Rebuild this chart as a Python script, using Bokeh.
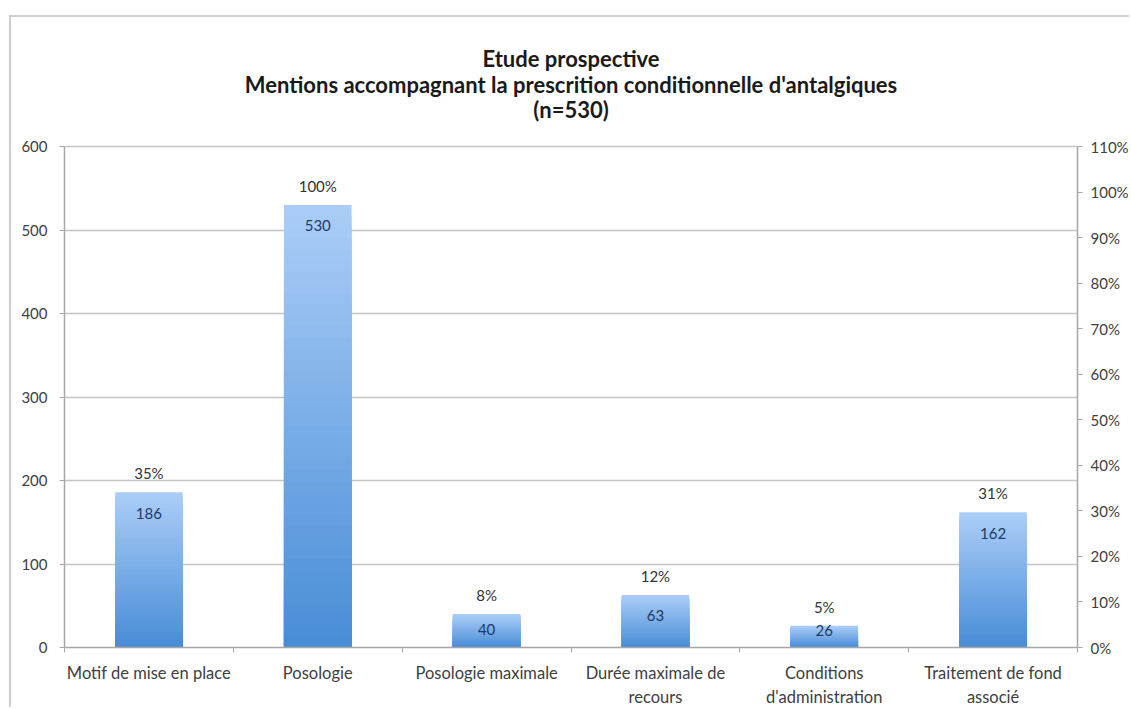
from bokeh.plotting import figure
from bokeh.models import Range1d, LinearAxis, FixedTicker, NumeralTickFormatter
from bokeh.embed import file_html
from bokeh.resources import INLINE

categories = ["Motif de mise en place", "Posologie", "Posologie maximale",
              "Durée maximale de\nrecours", "Conditions\nd'administration",
              "Traitement de fond\nassocié"]
counts = [186, 530, 40, 63, 26, 162]
percent_labels = ["35%", "100%", "8%", "12%", "5%", "31%"]
left_ticks = [0, 100, 200, 300, 400, 500, 600]
right_ticks = [0.0, 0.1, 0.2, 0.3, 0.4, 0.5, 0.6, 0.7, 0.8, 0.9, 1.0, 1.1]
title_lines = ["Etude prospective",
               "Mentions accompagnant la prescrition conditionnelle d'antalgiques",
               "(n=530)"]

FONT = "Lato"
AXIS_COLOR = "#a6a6a6"
GRID_COLOR = "#c4c4c4"
LABEL_COLOR = "#404040"

W, H = 1120, 692
MB_L = 53
YMAX = 600          # top of the value axis
PMAX = 1.1          # top of the percentage axis
AXIS_PX = 501       # pixel height of the 0..YMAX part of the frame
FRAME_PX = 630      # full frame height (title area included)
YTOP = YMAX * FRAME_PX / AXIS_PX

p = figure(width=W, height=H, x_range=Range1d(0, len(categories)),
           y_range=Range1d(0, YTOP), output_backend="svg", toolbar_location=None,
           min_border_left=MB_L, min_border_right=0, min_border_top=0,
           min_border_bottom=0)
p.styles = {"border-top": "2px solid #cfcfcf", "border-left": "2px solid #cfcfcf",
            "margin-top": "15px", "margin-left": "9px"}
p.outline_line_color = None
p.background_fill_color = "white"
p.border_fill_color = "white"

xs = [i + 0.5 for i in range(len(categories))]

# title: three centred lines above the value area
p.text(x=[len(categories) / 2] * 3, y=[YMAX] * 3, text=title_lines,
       y_offset=[-88, -62, -37], text_align="center", text_baseline="middle",
       text_font={"value": FONT}, text_font_size="22px", text_font_style="bold",
       text_color="#1a1a1a")

# gradient bars: nested bars, lighter at top, darker at bottom
light = (0xAA, 0xCD, 0xF7)
dark = (0x49, 0x8D, 0xD7)
N = 40
for k in range(N):
    frac = 1 - k / N
    t = k / (N - 1)
    col = "#%02x%02x%02x" % tuple(int(round(light[j] + (dark[j] - light[j]) * t)) for j in range(3))
    p.vbar(x=xs, top=[c * frac for c in counts], width=0.4, fill_color=col, line_color=None)

# value labels inside the bar end (moved up for short bars)
bar_px = [c / YMAX * AXIS_PX for c in counts]
inside_off = [min(21, max(5, h - 18)) for h in bar_px]
p.text(x=xs, y=counts, text=[str(c) for c in counts], y_offset=inside_off,
       text_align="center", text_baseline="middle", text_font_size="15px",
       text_font={"value": FONT}, text_color="#1f3a66")
p.text(x=xs, y=counts, text=percent_labels, y_offset=-19,
       text_align="center", text_baseline="middle", text_font_size="15px",
       text_font={"value": FONT}, text_color="#333333")

# grid
p.xgrid.grid_line_color = None
p.ygrid.ticker = FixedTicker(ticks=left_ticks)
p.ygrid.grid_line_color = GRID_COLOR
p.ygrid.grid_line_width = 1.5

# left axis
ya = p.yaxis[0]
ya.ticker = FixedTicker(ticks=left_ticks)
ya.bounds = (0, YMAX)
ya.axis_line_color = AXIS_COLOR
ya.axis_line_width = 1.5
ya.major_tick_line_color = AXIS_COLOR
ya.major_tick_out = 5
ya.major_tick_in = 0
ya.minor_tick_line_color = None
ya.major_label_text_font = FONT
ya.major_label_text_font_size = "15px"
ya.major_label_text_color = LABEL_COLOR
ya.major_label_standoff = 12

# right axis
p.extra_y_ranges = {"pct": Range1d(0, PMAX * YTOP / YMAX)}
ra = LinearAxis(y_range_name="pct", ticker=FixedTicker(ticks=right_ticks),
                formatter=NumeralTickFormatter(format="0%"), bounds=(0, PMAX))
ra.axis_line_color = AXIS_COLOR
ra.axis_line_width = 1.5
ra.major_tick_line_color = AXIS_COLOR
ra.major_tick_out = 5
ra.major_tick_in = 0
ra.minor_tick_line_color = None
ra.major_label_text_font = FONT
ra.major_label_text_font_size = "15px"
ra.major_label_text_color = LABEL_COLOR
ra.major_label_standoff = 8
p.add_layout(ra, "right")

# bottom axis
xa = p.xaxis[0]
xa.ticker = FixedTicker(ticks=xs, minor_ticks=list(range(len(categories) + 1)))
xa.major_label_overrides = {x: c for x, c in zip(xs, categories)}
xa.axis_line_color = AXIS_COLOR
xa.axis_line_width = 1.5
xa.major_tick_line_color = None
xa.major_tick_out = 0
xa.minor_tick_line_color = AXIS_COLOR
xa.minor_tick_out = 5
xa.minor_tick_in = 0
xa.major_label_text_font = FONT
xa.major_label_text_font_size = "16.5px"
xa.major_label_text_line_height = 1.2
xa.major_label_text_color = LABEL_COLOR
xa.major_label_standoff = 10

open("out.html", "w").write(file_html(p, INLINE))
